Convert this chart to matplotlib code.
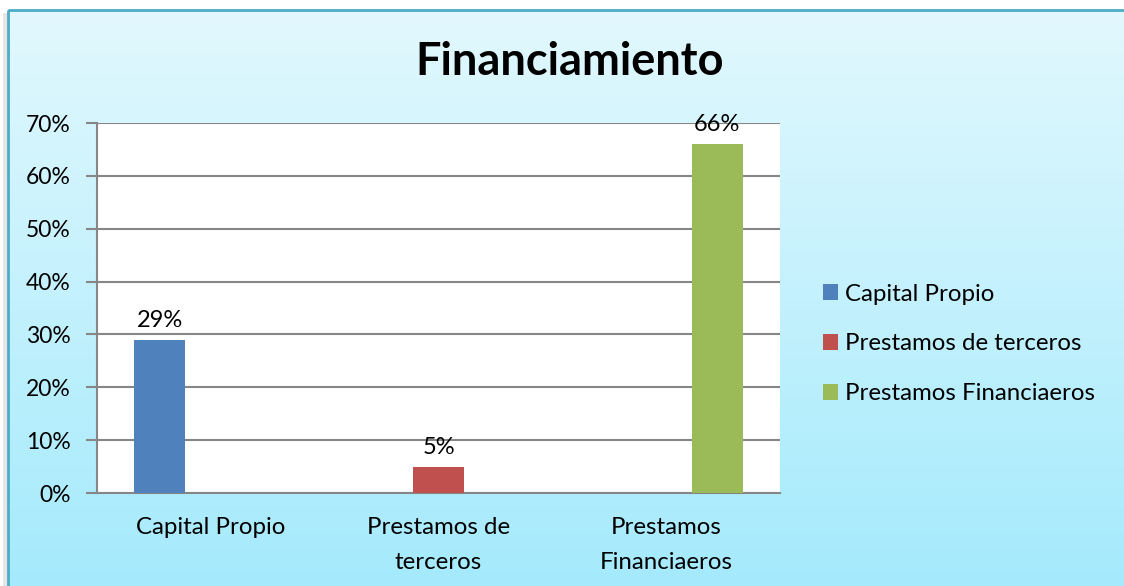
import numpy as np
import matplotlib
matplotlib.use("Agg")
import matplotlib.pyplot as plt
from matplotlib.patches import Rectangle
from matplotlib.ticker import FuncFormatter

categories = ["Capital Propio", "Prestamos de\nterceros", "Prestamos\nFinanciaeros"]
series_names = ["Capital Propio", "Prestamos de terceros", "Prestamos Financiaeros"]
values = [0.29, 0.05, 0.66]
colors = ["#4F81BD", "#C0504D", "#9BBB59"]
title = "Financiamiento"

plt.rcParams['font.family'] = ['Lato', 'DejaVu Sans']

W, H = 1124, 586
fig = plt.figure(figsize=(W / 100, H / 100), dpi=100)
fig.patch.set_facecolor("white")

# background with gradient and frame
bg = fig.add_axes([0, 0, 1, 1], zorder=-10)
bg.set_xlim(0, W)
bg.set_ylim(H, 0)
bg.axis("off")
grad = np.linspace(0, 1, 256).reshape(-1, 1)
top = np.array([0xE2, 0xF8, 0xFE]) / 255
bot = np.array([0xA4, 0xEA, 0xFC]) / 255
img = top + (bot - top) * grad[..., None]
img = img.reshape(256, 1, 3)
bg.imshow(img, extent=[8, W + 5, H + 5, 10], aspect="auto", zorder=0)
bg.add_patch(Rectangle((8, 10), W, H, fill=False, edgecolor="#4BACC6", lw=2, zorder=1))
bg.add_patch(Rectangle((3, 13), 5, H, facecolor="#E6E6E6", edgecolor="none", zorder=0))

# plot area
x0, x1, y0, y1 = 97, 780, 123, 493
ax = fig.add_axes([x0 / W, 1 - y1 / H, (x1 - x0) / W, (y1 - y0) / H])
ax.set_facecolor("white")

n = len(categories)
bw = 0.224
x = np.arange(n)
for i, (name, v, c) in enumerate(zip(series_names, values, colors)):
    data = [v if j == i else 0 for j in range(n)]
    off = (i - 1) * bw
    ax.bar(x + off, data, width=bw, color=c, label=name, zorder=3)
    ax.text(i + off, v + 0.037, f"{int(round(v * 100))}%", ha="center", va="center",
            fontsize=17, color="black", zorder=4)

ax.set_xlim(-0.5, n - 0.5)
ax.set_ylim(0, 0.70)
ax.set_yticks(np.arange(0, 0.71, 0.10))
ax.yaxis.set_major_formatter(FuncFormatter(lambda v, p: f"{int(round(v * 100))}%"))
ax.grid(axis="y", color="#868686", lw=1.5, zorder=1)
ax.set_xticks(x)
ax.set_xticklabels(categories, fontsize=17.3, linespacing=1.8)
ax.tick_params(axis="x", length=0, pad=17.5)
ax.tick_params(axis="y", length=8, width=1.5, color="#868686", labelsize=16.5, pad=11)
for s in ["top", "right"]:
    ax.spines[s].set_visible(False)
for s in ["left", "bottom"]:
    ax.spines[s].set_color("#868686")
    ax.spines[s].set_linewidth(1.5)

fig.text(570 / W, 1 - 62 / H, title, ha="center", va="center", fontsize=32.5,
         fontweight="bold", color="black")

leg = ax.legend(loc="center left", bbox_to_anchor=((813 - x0) / (x1 - x0), (493 - 344) / (y1 - y0)),
                frameon=False, fontsize=17.3, handlelength=0.62, handleheight=0.62,
                handletextpad=0.3, labelspacing=1.2, borderaxespad=0)

fig.savefig("out.png", dpi=100)
